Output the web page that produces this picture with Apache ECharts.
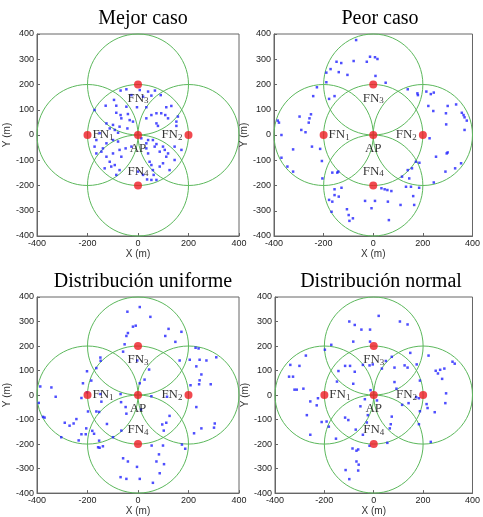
<!DOCTYPE html>
<html>
<head>
<meta charset="utf-8">
<script src="https://cdn.jsdelivr.net/npm/echarts@6/dist/echarts.min.js"></script>
<style>html,body{margin:0;padding:0;background:#fff}#c{width:483px;height:517px}</style>
</head>
<body>
<div id="c"></div>
<script>
// ---------- data ----------
const panelTitles = ['Mejor caso', 'Peor caso', 'Distribución uniforme', 'Distribución normal'];
const xTicks = [-400, -200, 0, 200, 400];
const yTicks = [-400, -300, -200, -100, 0, 100, 200, 300, 400];
const nodeNames = ['FN1', 'FN2', 'FN3', 'FN4', 'AP'];
const nodeX = [-200, 200, 0, 0, 0];
const nodeY = [0, 0, 200, -200, 0];
const coverageRadius = 200;

const bestCase = [
  [-69,176],[-46,181],[7,178],[40,172],[67,176],[-26,158],[20,152],[53,156],[90,158],
  [-95,139],[-128,116],[-172,99],[-86,116],[-46,112],[33,110],[-4,110],[-86,88],[-69,79],
  [-40,83],[53,79],[73,86],[92,86],[112,110],[132,115],[108,79],[-125,46],[-99,40],[-73,33],
  [-112,26],[-66,66],[-33,59],[-20,53],[33,66],[73,46],[79,36],[119,66],[152,53],[158,73],
  [152,36],[-92,20],[-79,9],[-42,26],[-152,7],[-165,-20],[-125,-33],[-99,-20],[-79,-26],
  [-172,-46],[-139,-53],[-145,-66],[-165,-73],[-125,-86],[-112,-106],[-106,-125],[-132,-132],
  [-92,-119],[-73,-139],[-86,-158],[13,-13],[40,-20],[33,-33],[59,-20],[66,-46],[73,-36],
  [86,-66],[99,-46],[106,-59],[112,-86],[119,-73],[145,-46],[172,-59],[145,-99],[33,-53],
  [40,-73],[46,-106],[53,-119],[59,-139],[62,-158],[73,-178],[53,-178],[36,-176],[20,-158],
  [0,-145],[86,-125],[99,-112],[125,-139],[-99,-73],[-73,-59],[-49,-53],[-66,-86],[-26,-46]
];
const worstCase = [
  [-69,376],[-13,310],[7,308],[17,301],[-26,290],[-79,293],[-148,290],[-129,285],[-172,261],
  [-139,249],[-104,238],[-189,247],[-189,209],[9,234],[50,207],[-227,189],[-242,154],[-178,143],
  [-156,154],[-251,82],[-257,66],[-260,49],[-297,73],[-290,20],[-273,11],[-323,-57],[-247,-46],
  [-214,-55],[-370,0],[-385,57],[-380,49],[-370,-90],[-346,-125],[-323,-145],[-207,-103],
  [-205,-172],[-165,-149],[-145,-149],[-141,-145],[-156,-215],[-156,-238],[-178,-257],[-165,-264],
  [-168,-304],[-139,-244],[-128,-209],[-106,-294],[-99,-317],[-96,-340],[-82,-330],[-33,-261],
  [-7,-290],[7,-261],[33,-211],[46,-215],[57,-218],[73,-222],[59,-264],[63,-337],[110,-277],
  [116,-165],[145,-172],[132,-205],[152,-205],[139,-139],[156,-132],[172,-106],[186,-110],
  [161,-242],[165,-277],[185,-209],[244,-188],[227,-13],[253,-86],[296,-73],[300,-69],[291,-145],
  [330,-132],[354,-112],[294,42],[293,86],[300,115],[334,121],[357,88],[364,79],[368,70],
  [377,57],[368,20],[242,95],[222,115],[232,162],[244,168],[214,172],[178,165],[180,158],[139,181]
];
const uniformDist = [
  [7,359],[-42,340],[49,319],[-9,283],[-20,279],[-40,253],[-46,241],[-53,207],[-59,177],[-3,141],
  [44,104],[26,63],[7,48],[108,241],[121,270],[148,217],[172,258],[205,144],[165,141],[228,193],
  [240,190],[244,144],[271,141],[251,84],[244,60],[242,44],[231,117],[288,44],[310,154],[231,-49],
  [251,-136],[222,-156],[304,-116],[301,-133],[208,40],[174,-202],[187,-219],[96,-120],[112,-113],
  [125,-85],[102,-145],[99,-206],[103,-282],[86,-319],[73,-271],[83,-242],[59,-358],[7,-342],
  [-4,-293],[-40,-271],[-59,-258],[-69,-335],[-46,-342],[54,-206],[12,-59],[53,-5],[115,-7],
  [-66,-145],[-46,-76],[-99,-172],[-123,-118],[-152,-215],[-158,-213],[-139,-209],[-154,-186],
  [-174,-158],[-181,-146],[-207,-160],[-224,-160],[-235,-185],[-244,-98],[-255,-116],[-271,-125],
  [-290,-113],[-304,-172],[-205,-136],[-165,-67],[-154,-69],[-198,-67],[-224,-12],[-326,-7],
  [-343,31],[-387,35],[-393,-32],[-376,-89],[-370,-92],[-218,48],[-202,97],[-185,59],[-165,110],
  [-149,153],[-148,140],[-145,-27],[-149,4],[-69,4],[-49,-49],[-67,-29],[-202,11]
];
const normalDist = [
  [20,323],[106,300],[137,288],[-99,300],[-77,286],[-50,267],[-15,267],[-83,218],[-15,218],
  [-172,205],[-198,185],[-275,161],[-338,123],[-301,119],[-343,75],[-327,75],[-321,22],[-312,22],
  [-285,26],[-257,-26],[-231,-42],[-226,-13],[-271,-82],[-257,-162],[-211,-110],[-191,-108],
  [-182,-129],[-153,-178],[-143,98],[-116,119],[-96,119],[-77,95],[-83,46],[-149,55],[-44,123],
  [-17,121],[-4,125],[-13,20],[13,-22],[-36,-17],[-54,-46],[-24,-82],[-28,-112],[-116,-92],
  [-103,-102],[-73,-141],[-44,-162],[-86,-218],[-70,-227],[-63,-222],[-70,-271],[-61,-284],
  [-63,-308],[-114,-306],[-99,-343],[-17,-207],[55,-195],[65,-136],[69,-119],[73,-88],[84,53],
  [92,26],[49,139],[73,156],[33,108],[84,112],[125,121],[137,112],[148,172],[174,125],[187,59],
  [141,-33],[172,-9],[183,-13],[214,-37],[183,-119],[187,-66],[247,-70],[231,-191],[218,-53],
  [222,161],[251,99],[260,88],[269,103],[286,108],[319,136],[328,128],[277,66],[293,7],[290,-33],[115,-40]
];
const panelPoints = [bestCase, worstCase, uniformDist, normalDist];

// ---------- layout ----------
const grids = [
  {left: 37, top: 34, width: 202, height: 202},
  {left: 274, top: 34, width: 202, height: 202},
  {left: 37, top: 297, width: 202, height: 201},
  {left: 275, top: 297, width: 202, height: 201}
];
const titleTops = [4, 4, 267, 267];

const labelPos = {FN1: 'right', FN2: 'left', FN3: 'bottom', FN4: 'top', AP: 'bottom'};
const labelDist = {FN1: 1, FN2: 2, FN3: 3, FN4: 3, AP: 3};
function richName(n) {
  if (n === 'AP') return '{n|AP}';
  return '{n|FN}{s|' + n.slice(2) + '}';
}

const option = {
  animation: false,
  backgroundColor: '#fff',
  title: panelTitles.map((t, i) => ({
    text: t,
    left: grids[i].left + grids[i].width / 2,
    textAlign: 'center',
    top: titleTops[i],
    textStyle: {fontFamily: 'Liberation Serif', fontWeight: 'normal', fontSize: 20, color: '#000'}
  })),
  grid: grids.map(g => Object.assign({show: true, borderColor: '#666', borderWidth: 1, backgroundColor: '#fff'}, g)),
  xAxis: grids.map((g, i) => ({
    gridIndex: i, type: 'value', min: xTicks[0], max: xTicks[xTicks.length - 1], interval: 200,
    name: 'X (m)', nameLocation: 'middle', nameGap: 12,
    nameTextStyle: {fontFamily: 'Liberation Sans', fontSize: 10, color: '#333'},
    axisLine: {show: true, onZero: false, lineStyle: {color: '#666'}},
    axisTick: {show: true, inside: true, length: 3, lineStyle: {color: '#666'}},
    axisLabel: {fontFamily: 'Liberation Sans', fontSize: 9, color: '#222', margin: 3, showMinLabel: true, showMaxLabel: true},
    splitLine: {show: false}
  })),
  yAxis: grids.map((g, i) => ({
    gridIndex: i, type: 'value', min: yTicks[0], max: yTicks[yTicks.length - 1], interval: 100,
    name: 'Y (m)', nameLocation: 'middle', nameGap: 18,
    nameTextStyle: {fontFamily: 'Liberation Sans', fontSize: 10, color: '#333'},
    axisLine: {show: true, onZero: false, lineStyle: {color: '#666'}},
    axisTick: {show: true, inside: true, length: 3, lineStyle: {color: '#666'}},
    axisLabel: {fontFamily: 'Liberation Sans', fontSize: 9, color: '#222', margin: 3, showMinLabel: true, showMaxLabel: true},
    splitLine: {show: false}
  })),
  series: []
};

const circleData = nodeX.map((x, k) => [x, nodeY[k], coverageRadius]);

for (let i = 0; i < 4; i++) {
  option.series.push({
    type: 'custom', xAxisIndex: i, yAxisIndex: i, silent: true, clip: false, z: 2,
    data: circleData,
    renderItem: function (params, api) {
      const c = api.coord([api.value(0), api.value(1)]);
      const s = api.size([api.value(2), api.value(2)]);
      return {
        type: 'ellipse',
        shape: {cx: c[0], cy: c[1], rx: s[0], ry: s[1]},
        style: {fill: 'none', stroke: '#5cb85c', lineWidth: 1}
      };
    }
  });
  option.series.push({
    type: 'scatter', xAxisIndex: i, yAxisIndex: i, z: 3,
    symbol: 'rect', symbolSize: 2.5,
    itemStyle: {color: '#2222ff'},
    data: panelPoints[i]
  });
  option.series.push({
    type: 'scatter', xAxisIndex: i, yAxisIndex: i, z: 4,
    symbol: 'circle', symbolSize: 8,
    itemStyle: {color: '#ee1c24'},
    data: nodeNames.map((n, k) => ({
      value: [nodeX[k], nodeY[k]],
      label: {
        show: true, position: labelPos[n], distance: labelDist[n],
        formatter: richName(n),
        rich: {
          n: {fontFamily: 'Liberation Serif', fontSize: 13, color: '#000', lineHeight: 14},
          s: {fontFamily: 'Liberation Serif', fontSize: 9, color: '#000', verticalAlign: 'bottom', lineHeight: 14, padding: [4, 0, 0, 0]}
        }
      }
    }))
  });
}

const chart = echarts.init(document.getElementById('c'), null, {renderer: 'canvas'});
chart.setOption(option);
</script>
</body>
</html>
